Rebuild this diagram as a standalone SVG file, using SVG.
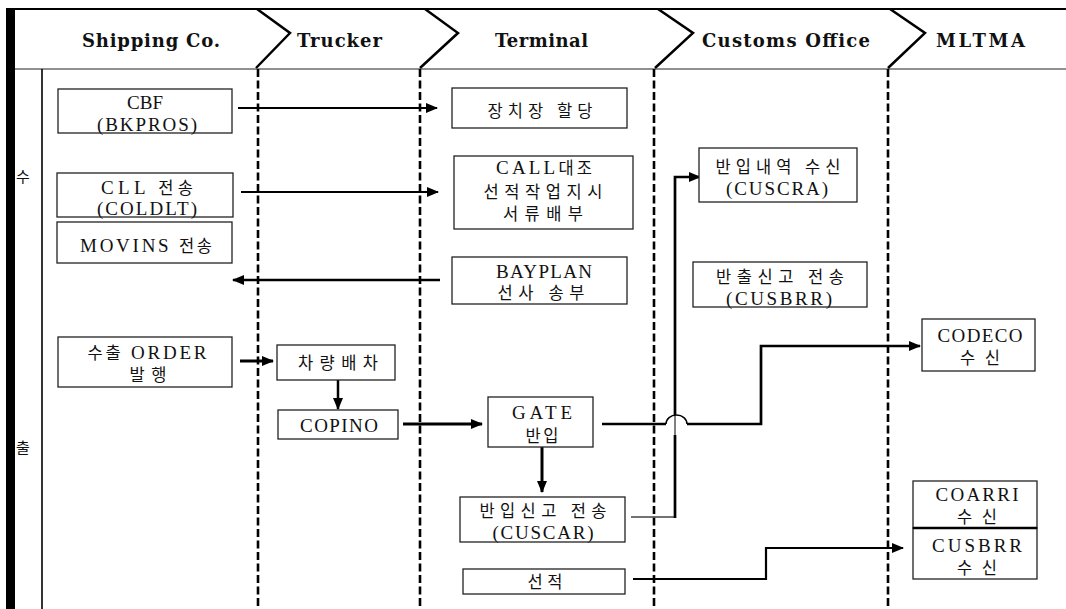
<svg xmlns="http://www.w3.org/2000/svg" width="1066" height="609" viewBox="0 0 1066 609">
<defs>
<style>
.bx{fill:#fff;stroke:#222;stroke-width:1.3}
.t{font-family:"Liberation Serif","Noto Sans CJK KR",serif;font-size:19px;fill:#111;text-anchor:middle}
.k{font-family:"Noto Sans CJK KR","Liberation Serif",sans-serif;font-size:16.5px}
.h{font-family:"DejaVu Serif","Noto Sans CJK KR",serif;font-size:18px;font-weight:bold;fill:#111}
.s{font-family:"Noto Sans CJK KR",sans-serif;font-size:15px;fill:#111;text-anchor:middle}
.lane{stroke:#000;stroke-width:2.6;stroke-dasharray:8 3.5;fill:none}
</style>
<marker id="ah" markerUnits="userSpaceOnUse" markerWidth="12" markerHeight="10" refX="11" refY="5" orient="auto">
<path d="M0,0 L12,5 L0,10 z" fill="#000"/>
</marker>
</defs>
<rect width="1066" height="609" fill="#fff"/>

<g id="frame">
<rect x="6" y="8" width="9" height="601" fill="#000"/>
<line x1="6" y1="9" x2="1066" y2="9" stroke="#000" stroke-width="2"/>
<line x1="15" y1="69" x2="1066" y2="69" stroke="#222" stroke-width="1.2"/>
<line x1="42" y1="69" x2="42" y2="609" stroke="#000" stroke-width="1.6"/>
<g fill="none" stroke="#000" stroke-width="2.5">
<polyline points="257,9 290,33 256,68"/>
<polyline points="425,9 458,33 420,68"/>
<polyline points="658,9 693,33 655,68"/>
<polyline points="890,9 925,33 888,68"/>
</g>
<line class="lane" x1="258" y1="69" x2="258" y2="609"/>
<line class="lane" x1="420" y1="69" x2="420" y2="609"/>
<line class="lane" x1="654" y1="69" x2="654" y2="609"/>
<line class="lane" x1="888" y1="69" x2="888" y2="609"/>
<text class="h" x="82" y="47" textLength="138">Shipping Co.</text>
<text class="h" x="297" y="47" textLength="85">Trucker</text>
<text class="h" x="495" y="47" textLength="93">Terminal</text>
<text class="h" x="702" y="47" textLength="168">Customs Office</text>
<text class="h" x="936" y="47" textLength="89">MLTMA</text>
<text class="s" x="23" y="182">수</text>
<text class="s" x="23" y="453">출</text>
</g>

<g id="connectors" fill="none" stroke="#000">
<path d="M238,108 H437" stroke-width="2" marker-end="url(#ah)"/>
<path d="M241,192 H438" stroke-width="2" marker-end="url(#ah)"/>
<path d="M440,280 H233" stroke-width="2.5" marker-end="url(#ah)"/>
<path d="M240,361 H273" stroke-width="3" marker-end="url(#ah)"/>
<path d="M338,380 V409" stroke-width="2.5" marker-end="url(#ah)"/>
<path d="M403,424 H482" stroke-width="3" marker-end="url(#ah)"/>
<path d="M602,424 H666" stroke-width="2.7"/>
<path d="M666,424 A10.5,9 0 0 1 687,424" stroke-width="1.5"/>
<path d="M687,424 H761 V346 H920" stroke-width="2.7" marker-end="url(#ah)"/>
<path d="M542,447 V492" stroke-width="3" marker-end="url(#ah)"/>
<path d="M631,517 H675" stroke="#444" stroke-width="1.3"/>
<path d="M675,518 V435" stroke-width="2.7"/>
<path d="M675,435 V415" stroke-width="1"/>
<path d="M675,415 V177 H700" stroke-width="2.7" marker-end="url(#ah)"/>
<path d="M633,579 H766 V548 H903" stroke-width="2.2" marker-end="url(#ah)"/>
</g>

<g id="n_cbf">
<rect class="bx" x="58" y="89" width="174" height="44"/>
<text class="t" x="145" y="109">CBF</text>
<text class="t" x="147" y="131" textLength="100">(BKPROS)</text>
</g>
<g id="n_cll">
<rect class="bx" x="57" y="173" width="176" height="44"/>
<text class="t" x="147" y="194" textLength="92">CLL <tspan class="k">전송</tspan></text>
<text class="t" x="147" y="215" textLength="100">(COLDLT)</text>
</g>
<g id="n_movins">
<rect class="bx" x="57" y="222" width="175" height="41"/>
<text class="t" x="146" y="252" textLength="132">MOVINS <tspan class="k">전송</tspan></text>
</g>
<g id="n_order">
<rect class="bx" x="58" y="337" width="174" height="50"/>
<text class="t" x="147" y="359" textLength="119"><tspan class="k">수출</tspan> ORDER</text>
<text class="t k" x="148" y="381" textLength="37">발행</text>
</g>
<g id="n_dispatch">
<rect class="bx" x="277" y="345" width="118" height="35"/>
<text class="t k" x="338" y="369" textLength="80">차량배차</text>
</g>
<g id="n_copino">
<rect class="bx" x="278" y="410" width="120" height="29"/>
<text class="t" x="339" y="432" textLength="78">COPINO</text>
</g>
<g id="n_yard">
<rect class="bx" x="452" y="88" width="175" height="40"/>
<text class="t k" x="540" y="117" textLength="105">장치장 할당</text>
</g>
<g id="n_call">
<rect class="bx" x="454" y="156" width="179" height="73"/>
<text class="t" x="544" y="174" textLength="96">CALL<tspan class="k">대조</tspan></text>
<text class="t k" x="543" y="198" textLength="119">선적작업지시</text>
<text class="t k" x="543" y="220" textLength="80">서류배부</text>
</g>
<g id="n_bayplan">
<rect class="bx" x="452" y="257" width="175" height="47"/>
<text class="t" x="544" y="278" textLength="96">BAYPLAN</text>
<text class="t k" x="541" y="299" textLength="87">선사 송부</text>
</g>
<g id="n_gate">
<rect class="bx" x="488" y="397" width="105" height="50"/>
<text class="t" x="542" y="419" textLength="60">GATE</text>
<text class="t k" x="542" y="442" textLength="33">반입</text>
</g>
<g id="n_cuscar">
<rect class="bx" x="460" y="497" width="165" height="45"/>
<text class="t k" x="543" y="517" textLength="127">반입신고 전송</text>
<text class="t" x="543" y="539" textLength="101">(CUSCAR)</text>
</g>
<g id="n_load">
<rect class="bx" x="463" y="569" width="162" height="25"/>
<text class="t k" x="545" y="588" textLength="35">선적</text>
</g>
<g id="n_cuscra">
<rect class="bx" x="699" y="148" width="158" height="54"/>
<text class="t k" x="778" y="173" textLength="125">반입내역 수신</text>
<text class="t" x="777" y="195" textLength="102">(CUSCRA)</text>
</g>
<g id="n_cusbrr_send">
<rect class="bx" x="693" y="262" width="174" height="45"/>
<text class="t k" x="780" y="283" textLength="128">반출신고 전송</text>
<text class="t" x="779" y="305" textLength="106">(CUSBRR)</text>
</g>
<g id="n_codeco">
<rect class="bx" x="922" y="319" width="113" height="52"/>
<text class="t" x="980" y="342" textLength="85">CODECO</text>
<text class="t k" x="980" y="364" textLength="40">수신</text>
</g>
<g id="n_coarri">
<rect class="bx" x="913" y="481" width="124" height="47"/>
<text class="t" x="977" y="501" textLength="83">COARRI</text>
<text class="t k" x="977" y="523" textLength="40">수신</text>
</g>
<g id="n_cusbrr_recv">
<rect class="bx" x="913" y="528" width="124" height="51"/>
<line x1="913" y1="528" x2="1037" y2="528" stroke="#000" stroke-width="2.6"/>
<text class="t" x="977" y="552" textLength="90">CUSBRR</text>
<text class="t k" x="977" y="574" textLength="40">수신</text>
</g>
</svg>
